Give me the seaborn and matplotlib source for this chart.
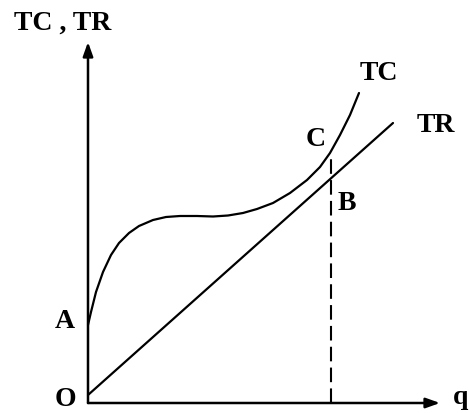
import numpy as np
import pandas as pd
import matplotlib
matplotlib.use("Agg")
import matplotlib.pyplot as plt
import seaborn as sns

# values (q on x, money on y)
tc_q = [0, 3, 8, 15, 23, 31, 41, 51, 65, 78, 92, 109, 125, 140, 155, 169, 185,
        202, 219, 232, 242, 252, 262, 271]
tc_v = [78, 91, 111, 131, 148, 160, 170, 177, 183, 186, 187, 187, 186.5, 187.5, 190,
        194, 200, 210, 223, 236, 250, 268, 288, 310]
tr_q = [0, 305]
tr_v = [8, 280]
q_star = 243
tc_at_q_star = 250

sns.set_theme(style="white")
plt.rcParams['font.family'] = ['Liberation Serif', 'DejaVu Serif']

fig = plt.figure(figsize=(4.69, 4.13), dpi=100)
ax = fig.add_axes([0, 0, 1, 1])
ax.set_xlim(-88, 381)
ax.set_ylim(-10, 403)
ax.axis('off')

tc = pd.DataFrame({'q': tc_q, 'v': tc_v})
tr = pd.DataFrame({'q': tr_q, 'v': tr_v})
sns.lineplot(data=tc, x='q', y='v', ax=ax, color='black', linewidth=1.6, sort=False)
sns.lineplot(data=tr, x='q', y='v', ax=ax, color='black', linewidth=1.6, sort=False)
ax.plot([q_star, q_star], [0, tc_at_q_star], color='black', linewidth=1.5,
        linestyle=(0, (7, 3)))

# axes with arrows
arrow = dict(arrowstyle='-|>,head_length=0.7,head_width=0.25', color='black', lw=1.8,
             shrinkA=0, shrinkB=0)
ax.annotate('', xy=(352, 0), xytext=(0, 0), arrowprops=arrow)
ax.annotate('', xy=(0, 361), xytext=(0, 0), arrowprops=arrow)

txt = dict(fontsize=20, fontweight='bold', color='black', ha='center', va='center')
ax.text(-25, 380, 'TC , TR', **txt)
ax.text(-23, 81, 'A', **txt)
ax.text(-23, 4, 'O', **txt)
ax.text(373, 5, 'q', **txt)
ax.text(291, 330, 'TC', **txt)
ax.text(348, 278, 'TR', **txt)
ax.text(228, 264, 'C', **txt)
ax.text(259, 200, 'B', **txt)

fig.savefig('out.png', dpi=100)
